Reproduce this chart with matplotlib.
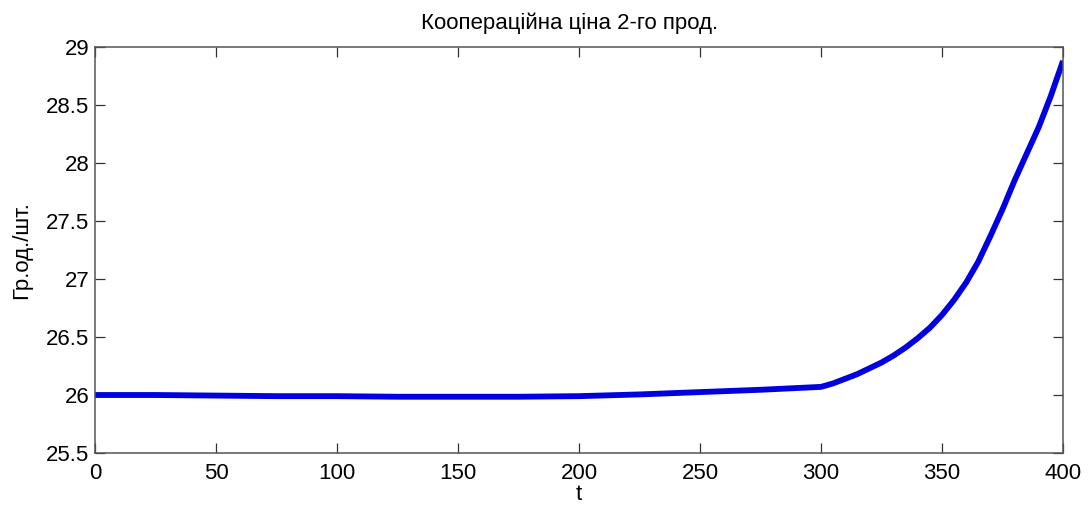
import matplotlib
matplotlib.use("Agg")
import matplotlib.pyplot as plt

# Cooperative price of the second product over time
t = [0, 25, 50, 75, 100, 125, 150, 175, 200, 225, 250, 275, 290, 300,
     305, 310, 315, 320, 325, 330, 335, 340, 345, 350, 355, 360, 365,
     370, 375, 380, 385, 390, 395, 400]
price = [26.00, 26.00, 25.995, 25.99, 25.99, 25.985, 25.985, 25.985, 25.99,
         26.005, 26.025, 26.045, 26.06, 26.07,
         26.10, 26.14, 26.18, 26.23, 26.28, 26.34, 26.41, 26.49, 26.58, 26.69,
         26.82, 26.97, 27.15, 27.37, 27.60, 27.85, 28.08, 28.31, 28.58, 28.88]

xticks = [0, 50, 100, 150, 200, 250, 300, 350, 400]
yticks = [25.5, 26, 26.5, 27, 27.5, 28, 28.5, 29]
ytick_labels = ["25.5", "26", "26.5", "27", "27.5", "28", "28.5", "29"]

plt.rcParams["font.family"] = ["Liberation Sans", "DejaVu Sans"]

fig = plt.figure(figsize=(10.89, 5.13), dpi=100)
ax = fig.add_axes([95 / 1089, 1 - 453 / 513, (1063 - 95) / 1089, (453 - 47) / 513])

ax.plot(t, price, color="#0000e0", linewidth=4.2, solid_capstyle="butt",
        solid_joinstyle="round")

ax.set_xlim(0, 400)
ax.set_ylim(25.5, 29)
ax.set_xticks(xticks)
ax.set_xticklabels([str(v) for v in xticks])
ax.set_yticks(yticks)
ax.set_yticklabels(ytick_labels)

ax.tick_params(direction="in", length=7, width=0.9, color="#333333",
               labelsize=16, top=True, right=True)
ax.tick_params(axis="x", pad=7)
ax.tick_params(axis="y", pad=4)
for s in ax.spines.values():
    s.set_color("#555555")
    s.set_linewidth(1.1)

ax.set_title("Кооперацiйна цiна 2-го прод.", fontsize=16, pad=13, x=0.49)
ax.set_xlabel("t", fontsize=16, labelpad=0)
ax.set_ylabel("Гр.од./шт.", fontsize=16, labelpad=10)

fig.savefig("out.png", dpi=100)
